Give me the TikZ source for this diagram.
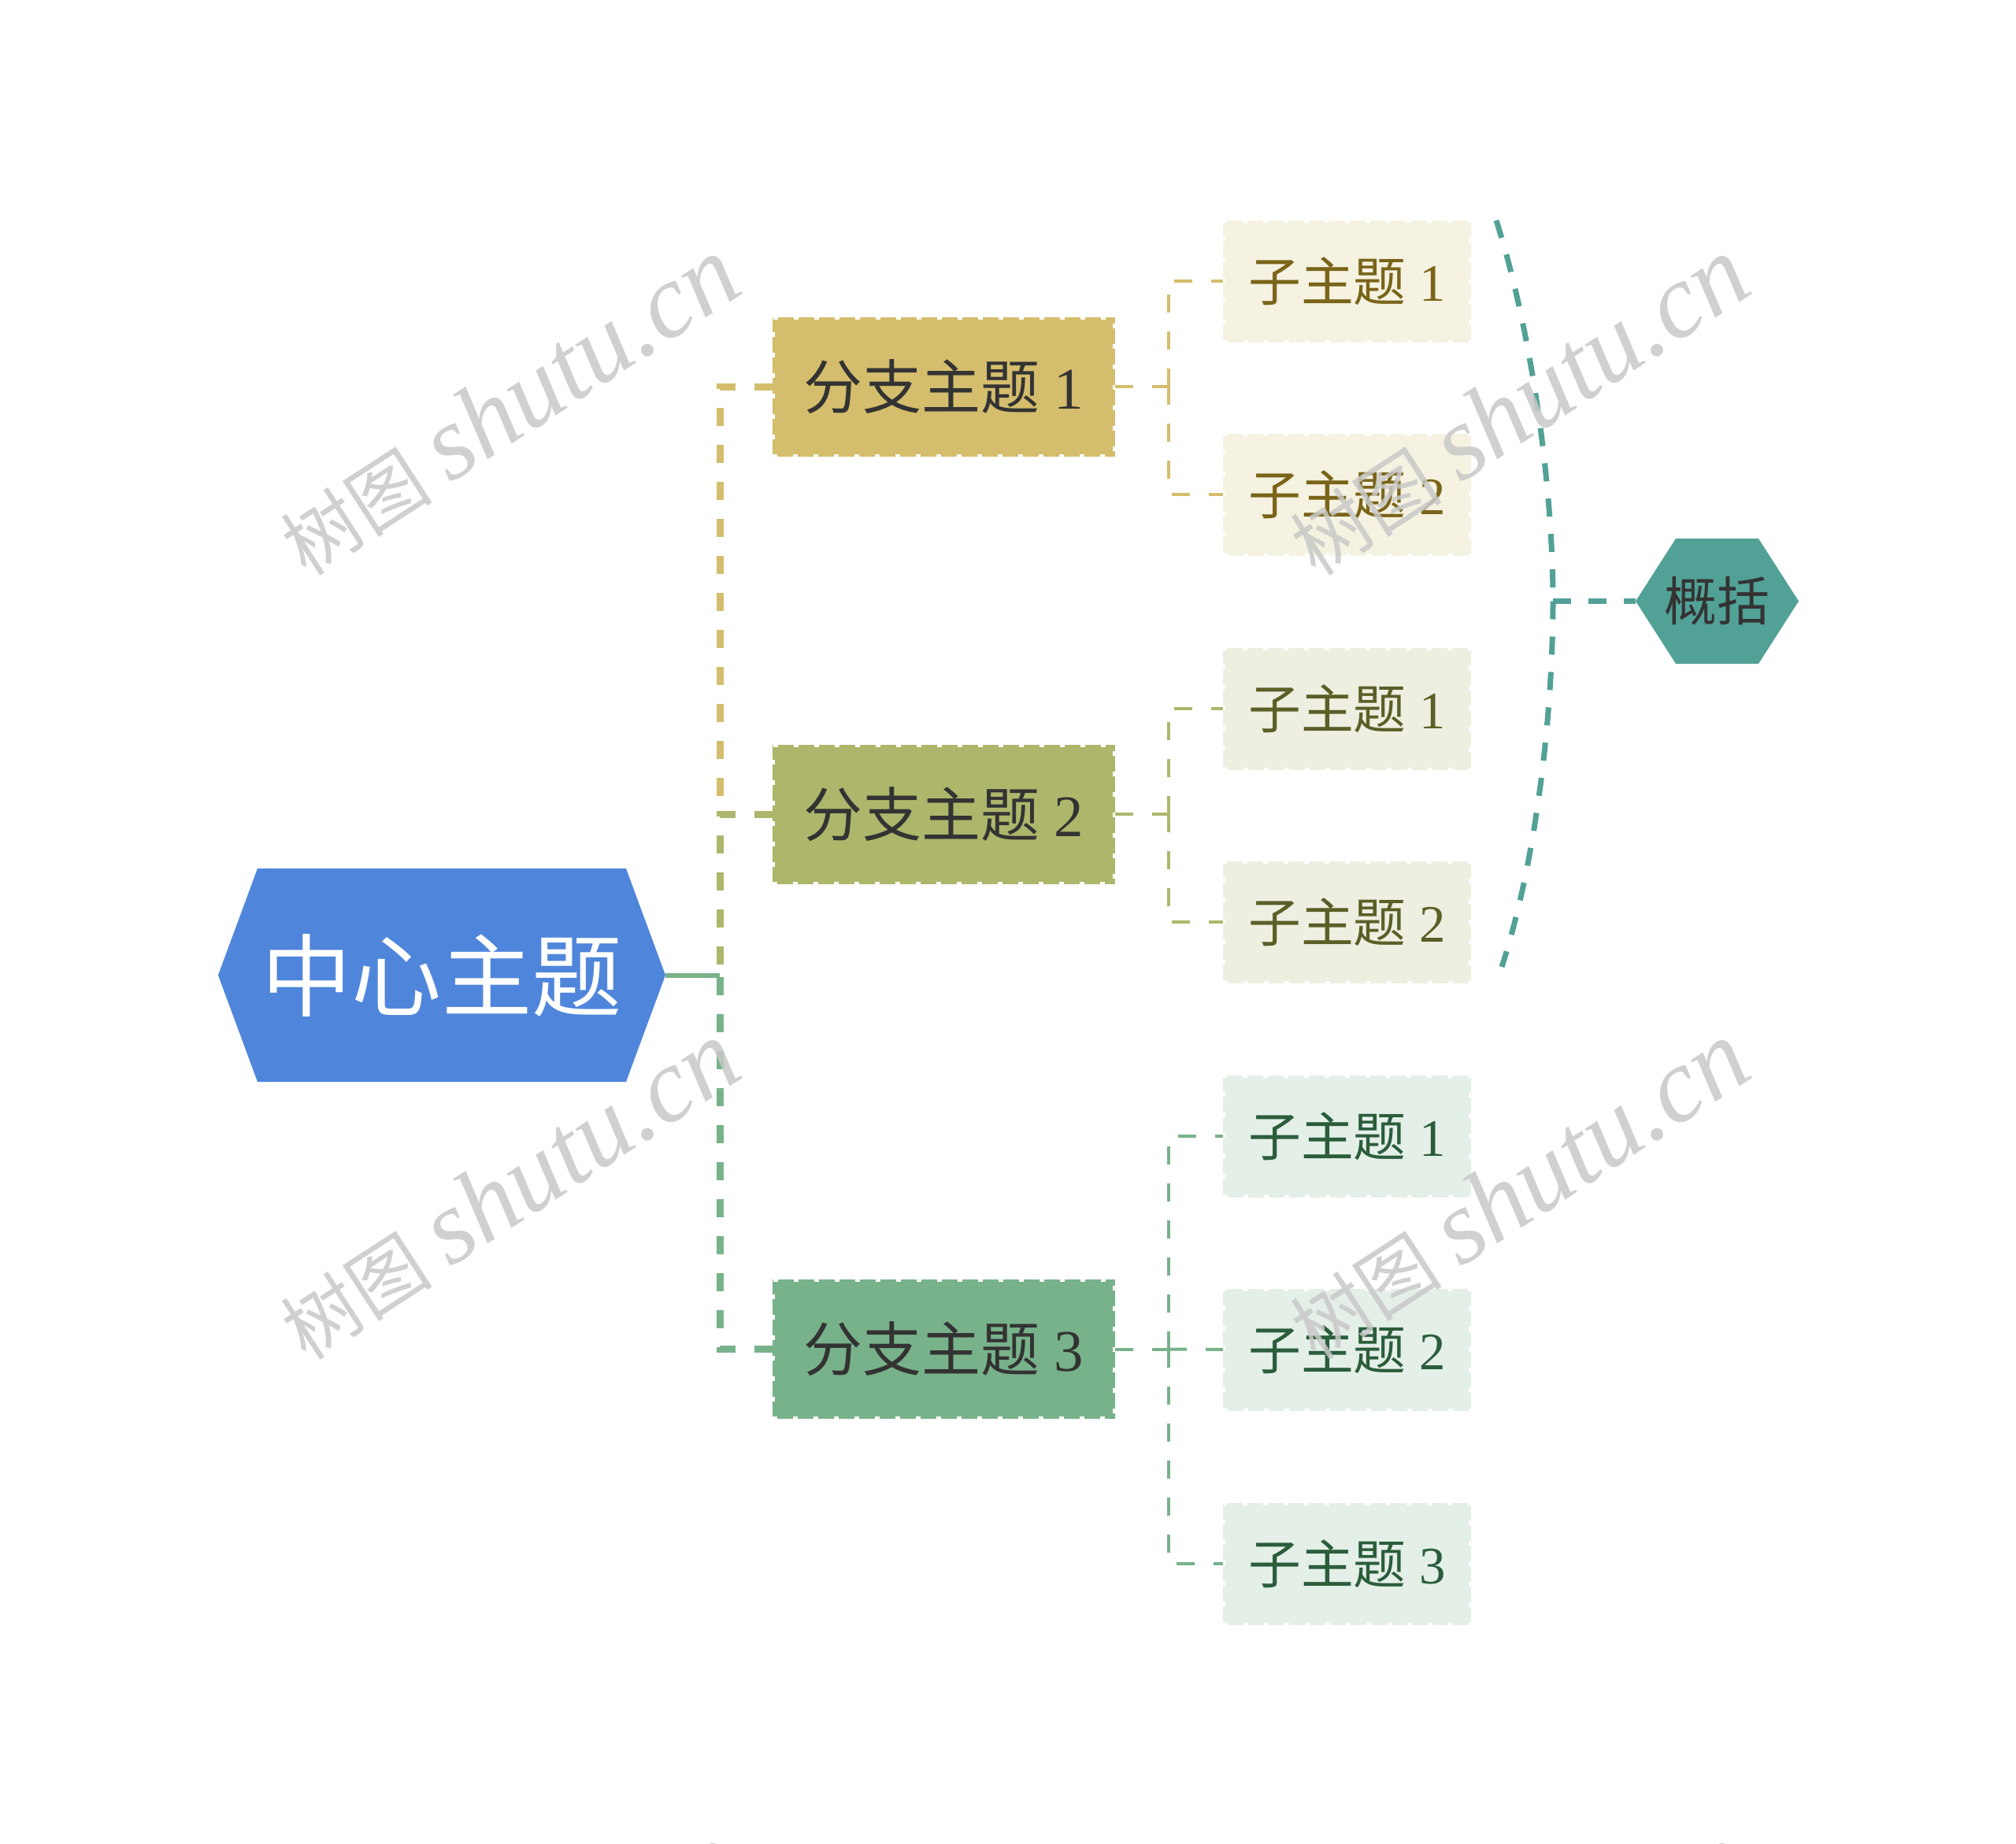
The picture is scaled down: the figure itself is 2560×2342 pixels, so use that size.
\documentclass[tikz,border=0pt]{standalone}
\usepackage{fontspec}
\setmainfont{Liberation Serif}
\newfontfamily\cjk{Noto Sans CJK SC}
\usetikzlibrary{calc}
\newlength\upx \setlength\upx{0.01cm}
\definecolor{rootblue}{RGB}{79,134,219}
\definecolor{cA}{RGB}{212,189,108}
\definecolor{cB}{RGB}{173,182,107}
\definecolor{cC}{RGB}{120,178,138}
\definecolor{sA}{RGB}{245,242,225}
\definecolor{sB}{RGB}{238,239,225}
\definecolor{sC}{RGB}{228,239,232}
\definecolor{tA}{RGB}{122,100,25}
\definecolor{tB}{RGB}{91,95,39}
\definecolor{tC}{RGB}{43,93,59}
\definecolor{tealc}{RGB}{82,161,150}
\definecolor{textdark}{RGB}{51,51,51}
\definecolor{wmgray}{RGB}{200,200,200}
\pgfdeclarelayer{back}
\pgfdeclarelayer{bg}
\pgfsetlayers{back,bg,main}
\newcommand\hexof[3]{\fill[#1] (#2.west) -- ($(#2.north west)+(#3,0)$) -- ($(#2.north east)+(-#3,0)$) -- (#2.east) -- ($(#2.south east)+(-#3,0)$) -- ($(#2.south west)+(#3,0)$) -- cycle;}
\newcommand\wmtext{{\cjk\fontsize{27.5pt}{30pt}\selectfont 树图}\kern 24\upx{\fontsize{38pt}{40pt}\selectfont\itshape shutu.cn}}
\tikzset{
  every node/.style={inner sep=0pt, outer sep=0pt},
  rootnode/.style={minimum width=568\upx, minimum height=271\upx, text=white,
    font=\cjk\fontsize{32.5pt}{36pt}\selectfont},
  branchbox/.style={fill=#1, minimum width=435\upx, minimum height=177\upx, text=textdark,
    font=\fontsize{21.3pt}{25pt}\selectfont,
    postaction={draw=white, line width=6\upx, dash pattern=on 6\upx off 20\upx}},
  subbox/.style 2 args={fill=#1, minimum width=315\upx, minimum height=155\upx, text=#2,
    font=\fontsize{19pt}{22pt}\selectfont,
    postaction={draw=white, line width=6\upx, dash pattern=on 6\upx off 20\upx}},
  sumnode/.style={minimum width=207\upx, minimum height=159\upx, text=textdark,
    font=\cjk\fontsize{19pt}{22pt}\selectfont},
  spine/.style={draw=#1, line width=9\upx, dash pattern=on 23\upx off 24\upx},
  subline/.style={draw=#1, line width=4\upx, dash pattern=on 23\upx off 24\upx},
  sumline/.style={draw=tealc, line width=7\upx, dash pattern=on 23\upx off 22\upx},
  wm/.style={text=wmgray, opacity=0.85, rotate=33},
}
\begin{document}
\begin{tikzpicture}[x=0.01cm, y=-0.01cm]
\useasboundingbox (0,0) rectangle (2560,2342);
\clip (0,0) rectangle (2560,2342);
\begin{pgfonlayer}{back}
\fill[white] (0,0) rectangle (2560,2342);
\end{pgfonlayer}

% nodes
\node[rootnode] (root) at (561,1238.5) {中心主题};
\node[branchbox=cA] (b1) at (1198.5,491) {{\cjk 分支主题} 1};
\node[branchbox=cB] (b2) at (1198.5,1034) {{\cjk 分支主题} 2};
\node[branchbox=cC] (b3) at (1198.5,1713.5) {{\cjk 分支主题} 3};
\node[subbox={sA}{tA}] (s11) at (1710.5,357) {{\cjk 子主题} 1};
\node[subbox={sA}{tA}] (s12) at (1710.5,628) {{\cjk 子主题} 2};
\node[subbox={sB}{tB}] (s21) at (1710.5,900) {{\cjk 子主题} 1};
\node[subbox={sB}{tB}] (s22) at (1710.5,1171) {{\cjk 子主题} 2};
\node[subbox={sC}{tC}] (s31) at (1710.5,1443) {{\cjk 子主题} 1};
\node[subbox={sC}{tC}] (s32) at (1710.5,1714) {{\cjk 子主题} 2};
\node[subbox={sC}{tC}] (s33) at (1710.5,1986) {{\cjk 子主题} 3};
\node[sumnode] (sum) at (2180.5,763.5) {概括};

\begin{pgfonlayer}{bg}
\hexof{rootblue}{root}{50}
\hexof{tealc}{sum}{51}
\end{pgfonlayer}

% junctions
\coordinate (jc) at (914,1238.5);
\coordinate (j1) at (914,491);
\coordinate (j2) at (914,1034);
\coordinate (j3) at (914,1713.5);
\coordinate (k1) at (1484,491);
\coordinate (k2) at (1484,1034);
\coordinate (k3) at (1484,1713.5);

% main spine
\draw[spine=cA] (b1.west) -- (j1) -- (j2);
\draw[spine=cB] (b2.west) -- (j2) -- (jc);
\draw[spine=cC] (b3.west) -- (j3) -- (jc);
\draw[draw=cC, line width=6\upx] (root.east) -- (jc);

% sub connectors
\draw[subline=cA] (b1.east) -- (k1);
\draw[subline=cA] (k1) |- (s11.west);
\draw[subline=cA] (k1) |- (s12.west);
\draw[subline=cB] (b2.east) -- (k2);
\draw[subline=cB] (k2) |- (s21.west);
\draw[subline=cB] (k2) |- (s22.west);
\draw[subline=cC] (b3.east) -- (k3);
\draw[subline=cC] (k3) |- (s31.west);
\draw[subline=cC] (k3) -- (s32.west);
\draw[subline=cC] (k3) |- (s33.west);

% summary bracket
\coordinate (bt) at (1900,280);
\coordinate (bm) at (1972,763.5);
\coordinate (bb) at (1907,1228);
\draw[sumline] (bt) .. controls (1945,420) and (1972,620) .. (bm);
\draw[sumline] (bm) .. controls (1972,900) and (1952,1090) .. (bb);
\draw[sumline] (bm) -- (sum.west);

% watermarks
\foreach \wx in {646,1928}{
  \foreach \wy in {516,1512,2532}{
    \node[wm] (wm-\wx-\wy) at (\wx,\wy) {\wmtext};
  }
}
\end{tikzpicture}
\end{document}
